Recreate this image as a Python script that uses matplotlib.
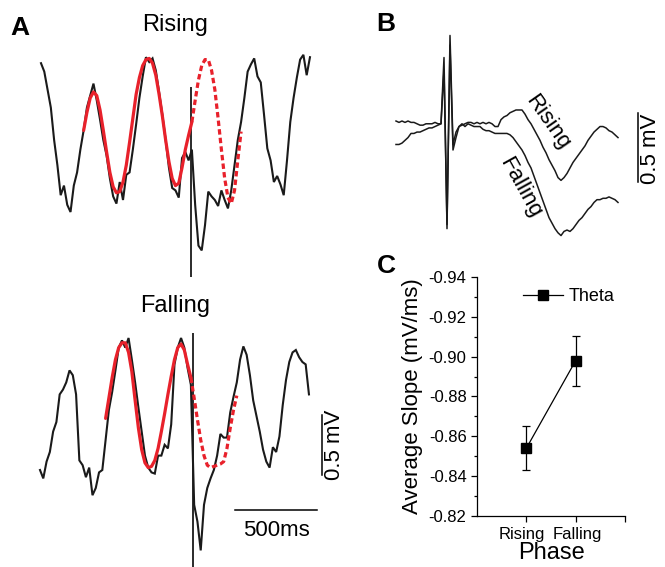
import numpy as np
import matplotlib
matplotlib.use('Agg')
import matplotlib.pyplot as plt
from matplotlib.ticker import MultipleLocator, FormatStrFormatter
from matplotlib.transforms import ScaledTranslation

plt.rcParams['font.family'] = ['Liberation Sans', 'DejaVu Sans']
plt.rcParams['axes.unicode_minus'] = False

W, H = 665, 567

# ---- panel A: theta LFP around a stimulus, sampled every 20 ms (mV) ----
a_dt = 20.0
rise_trace = [
    0.89, 0.82, 0.67, 0.52, 0.25, 0.04, -0.21, -0.13, -0.29, -0.35,
    -0.13, -0.02, 0.17, 0.33, 0.52, 0.62, 0.72, 0.58, 0.42, 0.25,
    0.12, -0.07, -0.22, -0.28, -0.10, -0.25, -0.04, -0.02, 0.17, 0.38,
    0.60, 0.78, 0.94, 0.90, 0.93, 0.83, 0.65, 0.46, 0.25, 0.02,
    -0.15, -0.17, -0.23, 0.10, 0.15, 0.08, 0.17, -0.29, -0.63, -0.67,
    -0.46, -0.18, -0.22, -0.25, -0.30, -0.17, -0.25, -0.32, -0.17, 0.04,
    0.25, 0.40, 0.60, 0.82, 0.88, 0.93, 0.78, 0.73, 0.46, 0.18,
    0.08, -0.10, -0.05, -0.12, -0.21, 0.08, 0.40, 0.60, 0.77, 0.92,
    0.96, 0.79, 0.94]
rise_spike = (915.0, 0.69, -0.89)          # time, top, bottom of stim artifact
rise_fit_start = 13
rise_fit = [
    0.33, 0.48, 0.60, 0.65, 0.62, 0.50, 0.33, 0.15, -0.02, -0.14,
    -0.19, -0.18, -0.10, 0.04, 0.23, 0.43, 0.63, 0.77, 0.87, 0.92,
    0.93, 0.89, 0.79, 0.63, 0.45, 0.25, 0.07, -0.07, -0.13, -0.11,
    0.02, 0.17, 0.29, 0.40]
rise_pred_start = 46
rise_pred = [
    0.40, 0.58, 0.75, 0.87, 0.92, 0.92, 0.83, 0.67, 0.43, 0.17,
    -0.07, -0.23, -0.28, -0.17, 0.08, 0.32]

fall_trace = [
    -0.25, -0.32, -0.18, -0.10, 0.07, 0.15, 0.38, 0.42, 0.48, 0.58,
    0.54, 0.38, -0.17, -0.21, -0.31, -0.23, -0.46, -0.40, -0.27, -0.25,
    0.00, 0.25, 0.40, 0.58, 0.77, 0.83, 0.77, 0.85, 0.67, 0.48,
    0.27, 0.07, -0.13, -0.23, -0.27, -0.28, -0.13, -0.13, -0.04, -0.07,
    0.13, 0.63, 0.77, 0.85, 0.77, 0.60, 0.46, -0.54, -0.68, -0.92,
    -0.54, -0.40, -0.32, -0.25, -0.13, 0.05, 0.02, 0.02, 0.23, 0.36,
    0.48, 0.67, 0.78, 0.71, 0.54, 0.33, 0.20, 0.07, -0.08, -0.18,
    -0.23, -0.06, -0.10, 0.03, 0.29, 0.50, 0.65, 0.73, 0.75, 0.69,
    0.65, 0.63, 0.38]
fall_spike = (931.0, 0.89, -1.06)
fall_fit_start = 20
fall_fit = [
    0.18, 0.35, 0.52, 0.67, 0.77, 0.81, 0.81, 0.73, 0.57, 0.33,
    0.10, -0.08, -0.19, -0.23, -0.22, -0.17, -0.07, 0.07, 0.22, 0.38,
    0.53, 0.67, 0.77, 0.80, 0.75, 0.63, 0.52]
fall_pred_start = 46
fall_pred = [
    0.52, 0.35, 0.17, 0.00, -0.13, -0.21, -0.23, -0.22, -0.21, -0.20,
    -0.18, -0.07, 0.10, 0.25, 0.37]

# ---- panel B: stimulus-triggered averages (mV), 0.5 ms steps ----
b_dt = 0.5
b_rise = [
    0.21, 0.20, 0.21, 0.20, 0.21, 0.20, 0.20, 0.19, 0.18, 0.18,
    0.19, 0.19, 0.19, 0.20, 0.19, 0.19, 0.67, -0.57, 0.83, 0.04,
    0.13, 0.17, 0.18, 0.19, 0.20, 0.20, 0.19, 0.20, 0.19, 0.20,
    0.19, 0.20, 0.19, 0.17, 0.17, 0.22, 0.24, 0.25, 0.27, 0.28,
    0.29, 0.29, 0.29, 0.26, 0.22, 0.19, 0.15, 0.11, 0.07, 0.02,
    -0.02, -0.07, -0.11, -0.15, -0.20, -0.22, -0.20, -0.17, -0.13, -0.09,
    -0.06, -0.03, 0.00, 0.03, 0.07, 0.10, 0.13, 0.15, 0.17, 0.17,
    0.16, 0.14, 0.13, 0.11, 0.09]
b_fall = [
    0.04, 0.04, 0.05, 0.07, 0.09, 0.12, 0.12, 0.13, 0.13, 0.14,
    0.15, 0.16, 0.16, 0.17, 0.18, 0.19, 0.58, -0.54, 0.76, 0.00,
    0.09, 0.17, 0.19, 0.17, 0.19, 0.18, 0.17, 0.17, 0.17, 0.15,
    0.14, 0.14, 0.13, 0.12, 0.12, 0.12, 0.12, 0.12, 0.11, 0.09,
    0.06, 0.03, 0.00, -0.04, -0.09, -0.13, -0.19, -0.25, -0.31, -0.37,
    -0.43, -0.49, -0.53, -0.57, -0.60, -0.62, -0.59, -0.58, -0.59, -0.57,
    -0.54, -0.51, -0.49, -0.46, -0.43, -0.41, -0.38, -0.36, -0.36, -0.35,
    -0.35, -0.34, -0.35, -0.36, -0.38]

# ---- panel C ----
phases = ['Rising', 'Falling']
slope_mean = [-0.854, -0.898]
slope_err = [0.011, 0.0125]

RED = '#e8212b'


def box_axes(fig, x0, y0, x1, y1):
    # pixel box (top-left origin) -> figure axes
    return fig.add_axes([x0 / W, 1 - y1 / H, (x1 - x0) / W, (y1 - y0) / H])


def trace_axes(fig, box, origin, px_ms, px_mv):
    ax = box_axes(fig, *box)
    x0, y0, x1, y1 = box
    ox, oy = origin
    ax.set_xlim((x0 - ox) / px_ms, (x1 - ox) / px_ms)
    ax.set_ylim((oy - y1) / px_mv, (oy - y0) / px_mv)
    ax.axis('off')
    return ax


def draw_trace(ax, trace, spike, fit_start, fit, pred_start, pred):
    t = np.arange(len(trace)) * a_dt
    ax.plot(t, trace, color='#1a1a1a', lw=1.5, solid_joinstyle='miter')
    ax.vlines(spike[0], spike[2], spike[1], color='#1a1a1a', lw=1.3)
    tf = (fit_start + np.arange(len(fit))) * a_dt
    ax.plot(tf, fit, color=RED, lw=2.3, solid_capstyle='round')
    tp = (pred_start + np.arange(len(pred))) * a_dt
    ax.plot(tp, pred, color=RED, lw=2.3, ls=(0, (1.7, 1.0)))


fig = plt.figure(figsize=(W / 100, H / 100), dpi=100)

px_ms, px_mv = 0.164, 120.0
ax_r = trace_axes(fig, (30, 40, 345, 290), (41, 170), px_ms, px_mv)
draw_trace(ax_r, rise_trace, rise_spike, rise_fit_start, rise_fit,
           rise_pred_start, rise_pred)

ax_f = trace_axes(fig, (30, 320, 345, 567), (40, 440), px_ms, px_mv)
draw_trace(ax_f, fall_trace, fall_spike, fall_fit_start, fall_fit,
           fall_pred_start, fall_pred)

# scale bars
ax_f.plot([1189, 1689], [-0.58, -0.58], color='black', lw=1.1, clip_on=False)
ax_f.text(1439, -0.75, '500ms', ha='center', va='center', fontsize=16)
ax_f.plot([1720, 1720], [0.21, -0.29], color='black', lw=1.1, clip_on=False)
ax_f.text(1793, -0.04, '0.5 mV', ha='center', va='center', rotation=90,
          fontsize=16)

fig.text(175 / W, 1 - 25 / H, 'Rising', ha='center', va='center', fontsize=17)
fig.text(175 / W, 1 - 306 / H, 'Falling', ha='center', va='center', fontsize=17)

# panel B
ax_b = trace_axes(fig, (390, 30, 660, 245), (396, 150), 3 / b_dt, 138.0)
tb = np.arange(len(b_rise)) * b_dt
ax_b.plot(tb, b_rise, color='#1a1a1a', lw=1.1)
ax_b.plot(tb, b_fall, color='#1a1a1a', lw=1.1)
ax_b.plot([40.3, 40.3], [0.27, -0.23], color='black', lw=1.1)
ax_b.text(42.4, 0.01, '0.5 mV', ha='center', va='center', rotation=90,
          fontsize=16)
ax_b.text(25.3, 0.20, 'Rising', ha='center', va='center', rotation=-55,
          fontsize=16)
ax_b.text(20.7, -0.27, 'Falling', ha='center', va='center', rotation=-61,
          fontsize=16)

# panel C
ax_c = box_axes(fig, 477, 277, 625, 516)
xc = np.arange(1, len(phases) + 1)
ax_c.errorbar(xc, slope_mean, yerr=slope_err, fmt='none', ecolor='black',
              elinewidth=0.9, capsize=3, capthick=0.9)
ax_c.plot(xc, slope_mean, '-s', color='black', lw=0.9, ms=7, label='Theta')
ax_c.set_xlim(0, 3)
ax_c.set_ylim(-0.82, -0.94)
ax_c.set_xticks([1, 2, 3])
ax_c.set_xticklabels(phases + [''])
ax_c.yaxis.set_major_locator(MultipleLocator(0.02))
ax_c.yaxis.set_minor_locator(MultipleLocator(0.01))
ax_c.yaxis.set_major_formatter(FormatStrFormatter('%.2f'))
ax_c.tick_params(axis='both', labelsize=12, direction='out', length=4, width=0.9)
ax_c.tick_params(axis='x', pad=4)
ax_c.tick_params(axis='y', which='minor', length=2.5, width=0.9)
# spread the two category names apart a little
for lab, dx in zip(ax_c.get_xticklabels(), (-5, 2, 0)):
    lab.set_transform(lab.get_transform() +
                      ScaledTranslation(dx / 100, 0, fig.dpi_scale_trans))
for side in ('top', 'right'):
    ax_c.spines[side].set_visible(False)
for side in ('left', 'bottom'):
    ax_c.spines[side].set_linewidth(0.9)
ax_c.set_ylabel('Average Slope (mV/ms)', fontsize=16, labelpad=4)
ax_c.set_xlabel('Phase', fontsize=17, labelpad=0)
ax_c.legend(loc='upper right', frameon=False, fontsize=13, handlelength=2.2,
            handletextpad=0.3, borderaxespad=0.2)

# panel letters
fig.text(20 / W, 1 - 28 / H, 'A', ha='center', va='center', fontsize=19,
         fontweight='bold')
fig.text(386 / W, 1 - 24 / H, 'B', ha='center', va='center', fontsize=19,
         fontweight='bold')
fig.text(386 / W, 1 - 266 / H, 'C', ha='center', va='center', fontsize=19,
         fontweight='bold')

fig.savefig('out.png', dpi=100)
